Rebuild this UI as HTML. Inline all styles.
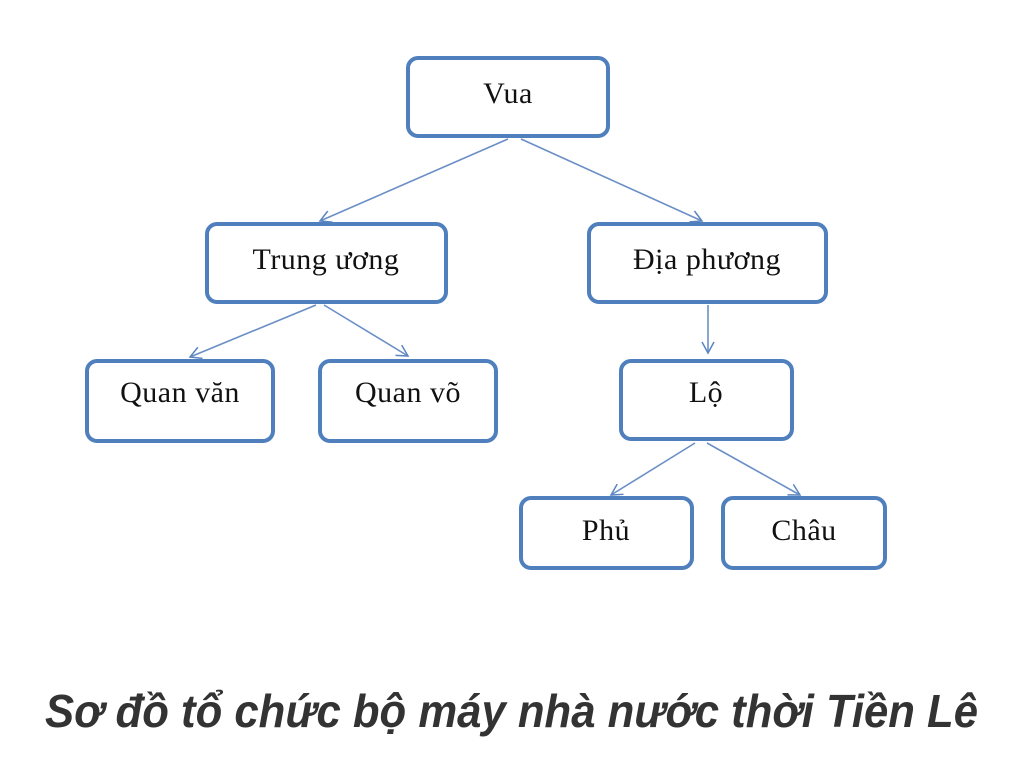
<!DOCTYPE html>
<html><head><meta charset="utf-8"><style>
html,body{margin:0;padding:0;background:#fff;width:1024px;height:775px;overflow:hidden}
</style></head><body>
<svg width="1024" height="775" viewBox="0 0 1024 775" xmlns="http://www.w3.org/2000/svg">
<defs>
<marker id="a" markerWidth="14" markerHeight="14" refX="12" refY="7" orient="auto" markerUnits="userSpaceOnUse">
<path d="M1,1 L12,7 L1,13" fill="none" stroke="#5b85bf" stroke-width="1.5"/>
</marker>
</defs>
<g fill="#fff" stroke="#4f7fbd" stroke-width="4">
<rect x="408" y="58" width="200" height="78" rx="10"/>
<rect x="207" y="224" width="239" height="78" rx="10"/>
<rect x="589" y="224" width="237" height="78" rx="10"/>
<rect x="87" y="361" width="186" height="80" rx="10"/>
<rect x="320" y="361" width="176" height="80" rx="10"/>
<rect x="621" y="361" width="171" height="78" rx="10"/>
<rect x="521" y="498" width="171" height="70" rx="10"/>
<rect x="723" y="498" width="162" height="70" rx="10"/>
</g>
<g stroke="#6a8fc6" stroke-width="1.6" fill="none" marker-end="url(#a)">
<line x1="508" y1="139" x2="320" y2="221"/>
<line x1="521" y1="139" x2="702" y2="221"/>
<line x1="316" y1="305" x2="190" y2="357"/>
<line x1="324" y1="305" x2="408" y2="356"/>
<line x1="708" y1="305" x2="708" y2="353"/>
<line x1="695" y1="443" x2="611" y2="495"/>
<line x1="707" y1="443" x2="800" y2="495"/>
</g>
<g font-family="Liberation Serif, serif" font-size="30" letter-spacing="0.5" fill="#111" text-anchor="middle">
<text x="508" y="103">Vua</text>
<text x="326" y="269">Trung ương</text>
<text x="707" y="269">Địa phương</text>
<text x="180" y="402">Quan văn</text>
<text x="408" y="402">Quan võ</text>
<text x="706" y="402">Lộ</text>
<text x="606" y="540">Phủ</text>
<text x="804" y="540">Châu</text>
</g>
<text x="45" y="727" font-family="Liberation Sans, sans-serif" font-size="46" font-weight="bold" font-style="italic" fill="#333" textLength="933" lengthAdjust="spacingAndGlyphs">Sơ đồ tổ chức bộ máy nhà nước thời Tiền Lê</text>
</svg>
</body></html>
